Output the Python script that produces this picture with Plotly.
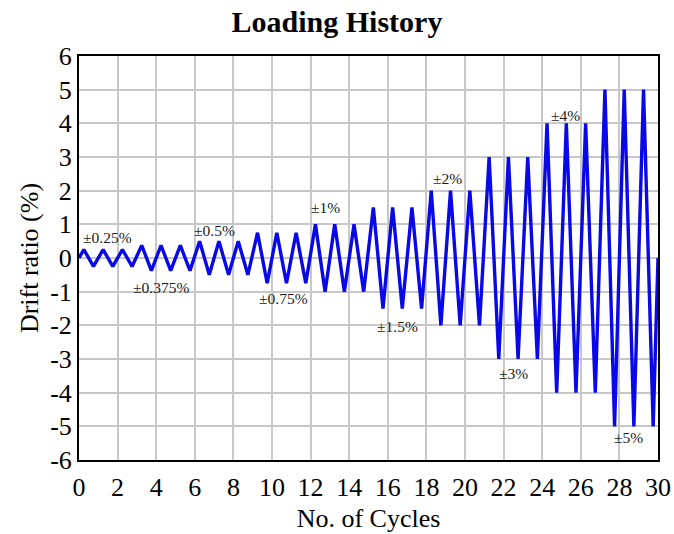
import plotly.graph_objects as go

# Drift amplitude (%) of each of the 30 loading cycles
cycle_amplitude = [0.25, 0.25, 0.25,
                   0.375, 0.375, 0.375,
                   0.5, 0.5, 0.5,
                   0.75, 0.75, 0.75,
                   1.0, 1.0, 1.0,
                   1.5, 1.5, 1.5,
                   2.0, 2.0, 2.0,
                   3.0, 3.0, 3.0,
                   4.0, 4.0, 4.0,
                   5.0, 5.0, 5.0]

# Labels of the amplitude steps and where they sit (cycle, drift %)
label_text = ["±0.25%", "±0.375%", "±0.5%", "±0.75%", "±1%",
              "±1.5%", "±2%", "±3%", "±4%", "±5%"]
label_x = [1.5, 4.25, 7.0, 10.6, 12.75, 16.5, 19.1, 22.5, 25.2, 28.45]
label_y = [0.6, -0.88, 0.83, -1.19, 1.5, -2.02, 2.36, -3.42, 4.24, -5.34]

x_ticks = list(range(0, 31, 2))
y_ticks = list(range(-6, 7, 1))

# Triangular path: start at 0, peak at quarter cycle, trough at three quarters
xs = [0.0]
ys = [0.0]
for i, a in enumerate(cycle_amplitude):
    xs += [i + 0.25, i + 0.75]
    ys += [a, -a]
xs.append(float(len(cycle_amplitude)))
ys.append(0.0)

FONT = "Liberation Serif, Times New Roman, serif"

fig = go.Figure()
fig.add_trace(go.Scatter(x=xs, y=ys, mode="lines",
                         line=dict(color="#0808e8", width=3.4),
                         showlegend=False, hoverinfo="skip"))

for t, x, y in zip(label_text, label_x, label_y):
    fig.add_annotation(x=x, y=y, text=t, showarrow=False,
                       font=dict(family=FONT, size=15.5, color="#1a1a1a"))

fig.update_layout(
    width=674, height=534,
    margin=dict(l=79, r=16, t=56, b=74),
    paper_bgcolor="white", plot_bgcolor="white",
    title=dict(text="<b>Loading History</b>", x=0.5, xanchor="center",
               y=0.959, yanchor="middle",
               font=dict(family=FONT, size=30, color="black")),
    font=dict(family=FONT, color="black"),
)
fig.update_xaxes(range=[0, 30], tickvals=x_ticks,
                 ticktext=[str(v) for v in x_ticks],
                 showgrid=True, gridcolor="#c8c8c8", gridwidth=1.8,
                 zeroline=False, showline=True, mirror=True,
                 linecolor="black", linewidth=2, ticks="",
                 automargin=False, ticklabelstandoff=3,
                 ticklabeloverflow="allow",
                 tickfont=dict(family=FONT, size=26, color="black"),
                 title=dict(text="No. of Cycles", standoff=8,
                            font=dict(family=FONT, size=26, color="black")))
fig.update_yaxes(range=[-6, 6], tickvals=y_ticks,
                 ticktext=[str(v) for v in y_ticks],
                 showgrid=True, gridcolor="#c8c8c8", gridwidth=1.8,
                 zeroline=False, showline=True, mirror=True,
                 linecolor="black", linewidth=2, ticks="",
                 automargin=False, ticklabelstandoff=0,
                 ticklabeloverflow="allow",
                 tickfont=dict(family=FONT, size=26, color="black"),
                 title=dict(text="Drift ratio (%)", standoff=4,
                            font=dict(family=FONT, size=26, color="black")))

# Remove the page's default body margin so the figure fills the window
fig.write_html("out.html",
               config={"displayModeBar": False},
               post_script="document.body.style.margin='0';"
                           "document.body.style.overflow='hidden';")
